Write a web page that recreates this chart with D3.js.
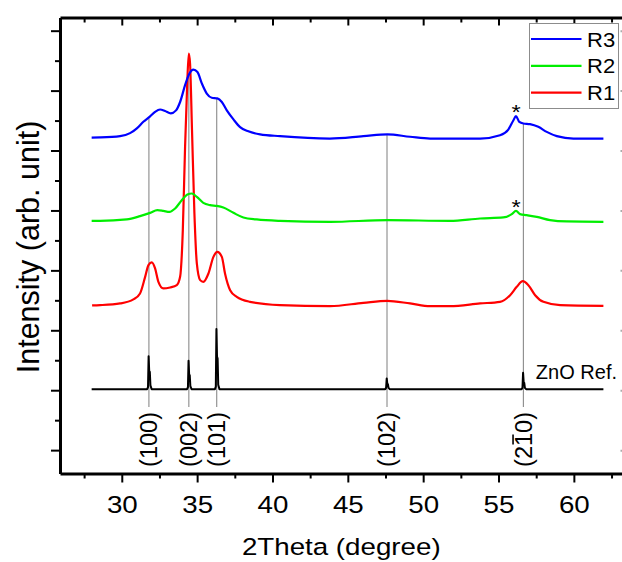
<!DOCTYPE html>
<html><head><meta charset="utf-8">
<script src="https://cdn.jsdelivr.net/npm/d3@7"></script>
<style>
body{margin:0;background:#fff}
svg{display:block}
text{font-family:"Liberation Sans",Arial,sans-serif;fill:#000}
</style>
</head><body>
<svg id="chart" width="622" height="562"></svg>
<script>
// ---------------- data ----------------
const xMajorTicks = [30, 35, 40, 45, 50, 55, 60];
const xMinorTicks = [27.5, 32.5, 37.5, 42.5, 47.5, 52.5, 57.5, 62.5];
const yMajorTicks = [0, 1, 2, 3, 4, 5, 6, 7];
const yMinorTicks = [0.5, 1.5, 2.5, 3.5, 4.5, 5.5, 6.5];

const seriesNames = ["R3", "R2", "R1"];
const seriesColors = ["#0000ff", "#00ee00", "#ff0000"];

const r3 = [
  [28.0,5.215],[28.56,5.218],[29.89,5.24],[30.55,5.29],[31.0,5.37],[31.43,5.48],
  [31.88,5.57],[32.21,5.645],[32.54,5.685],[32.87,5.66],[33.25,5.62],[33.60,5.67],
  [33.87,5.81],[34.20,6.09],[34.49,6.285],[34.75,6.35],[35.02,6.31],[35.31,6.12],
  [35.64,5.95],[35.97,5.88],[36.34,5.87],[36.64,5.81],[36.97,5.67],[37.41,5.52],
  [37.85,5.39],[38.40,5.32],[39.18,5.27],[40.50,5.24],[43.81,5.20],[46.03,5.24],
  [47.62,5.27],[49.13,5.23],[50.46,5.20],[51.78,5.20],[53.78,5.20],[55.10,5.256],
  [55.65,5.35],[55.99,5.506],[56.16,5.573],[56.38,5.478],[56.65,5.451],[57.09,5.44],
  [57.64,5.395],[58.20,5.311],[58.87,5.24],[59.97,5.20],[61.96,5.20]
];
const r2 = [
  [28.0,3.826],[28.56,3.826],[30.33,3.85],[31.21,3.905],[31.88,3.96],[32.36,4.005],
  [32.76,3.993],[33.16,3.976],[33.54,4.033],[33.98,4.17],[34.35,4.267],[34.65,4.283],
  [34.98,4.227],[35.41,4.126],[35.86,4.088],[36.30,4.076],[36.74,4.05],[37.41,3.96],
  [38.07,3.883],[38.96,3.85],[40.50,3.826],[43.82,3.81],[47.62,3.838],[51.78,3.826],
  [53.78,3.866],[55.32,3.883],[55.88,3.938],[56.16,3.993],[56.43,3.938],[56.87,3.921],
  [57.54,3.893],[58.42,3.838],[59.53,3.816],[61.96,3.81]
];
const r1 = [
  [28.03,2.415],[28.56,2.42],[29.89,2.448],[30.77,2.515],[31.21,2.615],[31.55,2.892],
  [31.77,3.087],[31.99,3.132],[32.21,3.032],[32.43,2.808],[32.76,2.698],[33.21,2.715],
  [33.65,2.753],[33.87,2.892],[34.05,3.671],[34.20,5.061],[34.35,6.174],[34.45,6.619],
  [34.53,6.453],[34.66,5.34],[34.82,3.95],[34.98,3.115],[35.20,2.837],[35.41,2.808],
  [35.75,2.948],[36.08,3.225],[36.34,3.309],[36.64,3.225],[36.85,2.948],[37.19,2.67],
  [37.63,2.558],[38.51,2.475],[40.50,2.42],[43.82,2.403],[46.03,2.458],[47.62,2.491],
  [49.13,2.448],[50.46,2.403],[51.78,2.403],[53.78,2.448],[55.10,2.475],[55.77,2.586],
  [56.21,2.725],[56.61,2.82],[56.98,2.753],[57.43,2.586],[57.98,2.475],[59.09,2.42],
  [61.96,2.408]
];
const znoRef = [
  [28.0,1.018],[31.68,1.018],[31.74,1.05],[31.78,1.568],[31.82,1.32],[31.86,1.307],[31.90,1.08],[31.98,1.018],
  [34.33,1.018],[34.39,1.05],[34.43,1.49],[34.47,1.26],[34.51,1.25],[34.55,1.07],[34.63,1.018],
  [36.18,1.018],[36.24,1.06],[36.28,2.02],[36.32,1.56],[36.36,1.53],[36.40,1.09],[36.48,1.018],
  [47.48,1.018],[47.54,1.04],[47.58,1.196],[47.62,1.11],[47.66,1.10],[47.70,1.04],[47.78,1.018],
  [56.53,1.018],[56.59,1.04],[56.63,1.29],[56.67,1.13],[56.71,1.12],[56.75,1.04],[56.83,1.018],
  [61.96,1.018]
];
const refLabel = "ZnO Ref.";

const millerPeaks = [31.80, 34.45, 36.30, 47.60, 56.65];
const millerLabels = ["(100)", "(002)", "(101)", "(102)", "(210)"];
const millerBarChar = [-1, -1, -1, -1, 2];   // index of the character carrying an overbar
const millerLineBottom = 0.72;

const starX = [56.16, 56.16];
const starY = [5.52, 3.94];

const xTitle = "2Theta (degree)";
const yTitle = "Intensity (arb. unit)";

// ---------------- chart ----------------
const svg = d3.select("#chart");
const x = d3.scaleLinear().domain([25.9, 63.36]).range([60, 624.5]);
const y = d3.scaleLinear().domain([-0.39, 7.22]).range([473.5, 17.5]);
const SX = 1.18;

function interp(series, xv) {
  const i = d3.bisector(d => d[0]).left(series, xv);
  if (i <= 0) return series[0][1];
  if (i >= series.length) return series[series.length - 1][1];
  const a = series[i - 1], b = series[i];
  const t = (xv - a[0]) / (b[0] - a[0]);
  return a[1] + t * (b[1] - a[1]);
}
// reference lines (behind curves)
svg.append("g").selectAll("line").data(millerPeaks).join("line")
  .attr("x1", d => x(d)).attr("x2", d => x(d))
  .attr("y1", d => y(interp(r3, d))).attr("y2", y(millerLineBottom))
  .attr("stroke", "#8a8a8a").attr("stroke-width", 1.1);

const line = d3.line().x(d => x(d[0])).y(d => y(d[1])).curve(d3.curveMonotoneX);
const lineLin = d3.line().x(d => x(d[0])).y(d => y(d[1]));

svg.append("path").datum(znoRef).attr("d", lineLin)
  .attr("fill", "none").attr("stroke", "#000").attr("stroke-width", 2).attr("stroke-linejoin", "round");
[r1, r2, r3].forEach((s, i) => {
  svg.append("path").datum(s).attr("d", line)
    .attr("fill", "none").attr("stroke", seriesColors[2 - i]).attr("stroke-width", 2.2)
    .attr("stroke-linejoin", "round");
});

// stars
svg.append("g").selectAll("text").data(starX).join("text")
  .attr("transform", (d, i) => `translate(${x(d)},${y(starY[i])}) scale(${SX},1)`)
  .attr("text-anchor", "middle").attr("font-size", 20).text("*");

// ZnO Ref label
svg.append("text")
  .attr("transform", `translate(617,${y(1.18)})`)
  .attr("text-anchor", "end").attr("font-size", 20).text(refLabel);

// miller labels
const MFS = 23.5;
millerPeaks.forEach((p, i) => {
  const g = svg.append("g").attr("transform", `translate(${x(p)},412) rotate(-90)`);
  const t = g.append("text").attr("dy", "0.36em")
    .attr("text-anchor", "end").attr("font-size", MFS).text(millerLabels[i]);
  if (millerBarChar[i] >= 0) {
    const node = t.node();
    const ext = node.getExtentOfChar(millerBarChar[i]);
    const by = MFS * 0.36 - MFS * 0.80;
    g.append("line").attr("x1", ext.x + 1.5).attr("x2", ext.x + ext.width - 1.5)
      .attr("y1", by).attr("y2", by).attr("stroke", "#000").attr("stroke-width", 1.6);
  }
});

// axes
function styleAxis(g) {
  g.select(".domain").attr("stroke-width", 3).attr("stroke", "#000");
  g.selectAll(".tick line").attr("stroke-width", 2).attr("stroke", "#000");
}
svg.append("g").attr("transform", `translate(0,${y.range()[0]})`)
  .call(d3.axisBottom(x).tickValues(xMinorTicks).tickSize(5).tickSizeOuter(0).tickFormat(""))
  .call(g => { g.select(".domain").remove(); g.selectAll(".tick line").attr("stroke-width", 2); });
const bx = svg.append("g").attr("transform", `translate(0,${y.range()[0]})`)
  .call(d3.axisBottom(x).tickValues(xMajorTicks).tickSize(9).tickSizeOuter(0).tickFormat(d3.format("d")));
styleAxis(bx);
bx.selectAll(".tick text").attr("y", 40).attr("dy", 0).attr("font-size", 23.5)
  .attr("font-family", "Liberation Sans, Arial, sans-serif").attr("fill", "#000")
  .attr("transform", `scale(${SX},1)`);
svg.append("g").attr("transform", `translate(0,${y.range()[1]})`)
  .call(d3.axisTop(x).tickValues(xMinorTicks).tickSize(-5).tickSizeOuter(0).tickFormat(""))
  .call(g => { g.select(".domain").remove(); g.selectAll(".tick line").attr("stroke-width", 2); });
const tx = svg.append("g").attr("transform", `translate(0,${y.range()[1]})`)
  .call(d3.axisTop(x).tickValues(xMajorTicks).tickSize(-8).tickSizeOuter(0).tickFormat(""));
styleAxis(tx);
svg.append("g").attr("transform", `translate(${x.range()[0]},0)`)
  .call(d3.axisLeft(y).tickValues(yMinorTicks).tickSize(5).tickSizeOuter(0).tickFormat(""))
  .call(g => { g.select(".domain").remove(); g.selectAll(".tick line").attr("stroke-width", 2); });
const ly = svg.append("g").attr("transform", `translate(${x.range()[0]},0)`)
  .call(d3.axisLeft(y).tickValues(yMajorTicks).tickSize(9).tickSizeOuter(0).tickFormat(""));
styleAxis(ly);
const ry = svg.append("g").attr("transform", `translate(${x.range()[1]},0)`)
  .call(d3.axisRight(y).tickValues(yMajorTicks).tickSize(-4).tickSizeOuter(0).tickFormat(""));
styleAxis(ry);
ry.selectAll(".tick line").attr("stroke", "#aaa");

// axis titles
svg.append("text")
  .attr("transform", `translate(${(x.range()[0] + x.range()[1]) / 2 - 1},555) scale(${SX},1)`)
  .attr("text-anchor", "middle").attr("font-size", 23.5).text(xTitle);
svg.append("text")
  .attr("transform", `translate(39,247) rotate(-90)`)
  .attr("text-anchor", "middle").attr("font-size", 30.5).text(yTitle);

// legend
const lg = svg.append("g");
lg.append("rect").attr("x", 529.5).attr("y", 23.5).attr("width", 89).attr("height", 85)
  .attr("fill", "#fff").attr("stroke", "#8c8c8c").attr("stroke-width", 1);
seriesNames.forEach((n, i) => {
  const yy = 39 + i * 26.8;
  lg.append("line").attr("x1", 531).attr("x2", 581.5).attr("y1", yy).attr("y2", yy)
    .attr("stroke", seriesColors[i]).attr("stroke-width", 2.2);
  lg.append("text").attr("transform", `translate(587,${yy + 7.5}) scale(1.1,1)`)
    .attr("font-size", 20).text(n);
});
</script>
</body></html>
